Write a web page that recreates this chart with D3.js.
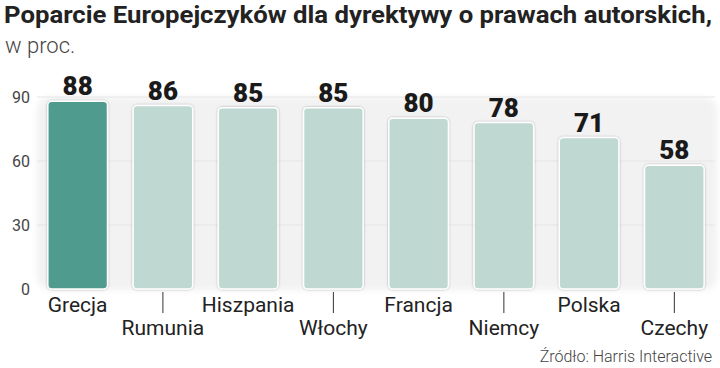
<!DOCTYPE html>
<html lang="pl">
<head>
<meta charset="UTF-8">
<title>Poparcie dla dyrektywy</title>
<script src="https://d3js.org/d3.v7.min.js"></script>
<style>
  body { margin: 0; background: #fff; }
  svg { display: block; }
  .title { font-family: Roboto, sans-serif; font-weight: 700; font-size: 23px; fill: #222; }
  .sub { font-family: Roboto, sans-serif; font-weight: 300; font-size: 22px; fill: #444; }
  .val { font-family: Roboto, sans-serif; font-weight: 900; font-size: 26px; fill: #1a1a1a; }
  .cat { font-family: Roboto, sans-serif; font-size: 21px; fill: #222; }
  .ytick { font-family: Roboto, sans-serif; font-size: 16px; fill: #444; }
  .src { font-family: Roboto, sans-serif; font-weight: 300; font-size: 16px; fill: #444; }
</style>
</head>
<body>
<svg id="canvas"></svg>
<script>
let countries = ['Grecja', 'Rumunia', 'Hiszpania', 'Włochy', 'Francja', 'Niemcy', 'Polska', 'Czechy']
let values = [88, 86, 85, 85, 80, 78, 71, 58]
let yTicks = [0, 30, 60, 90]

let width = 720
let height = 368

let svg = d3.select('#canvas')
  .attr('width', width)
  .attr('height', height)

let defs = svg.append('defs')
let shadow = defs.append('filter').attr('id', 'shadow')
  .attr('x', '-20%').attr('y', '-20%').attr('width', '140%').attr('height', '140%')
shadow.append('feDropShadow')
  .attr('dx', 0).attr('dy', 0).attr('stdDeviation', 1.2)
  .attr('flood-color', '#000').attr('flood-opacity', 0.3)

let bgBlur = defs.append('filter').attr('id', 'soft')
bgBlur.append('feGaussianBlur').attr('stdDeviation', 3)

let xScale = d3.scaleBand()
  .domain(countries)
  .range([41, 711])
  .paddingInner(0.3)
  .paddingOuter(0.08)

let yScale = d3.scaleLinear()
  .domain([0, 90])
  .range([289, 97])

// background panel
svg.append('rect')
  .attr('x', 37).attr('y', 97)
  .attr('width', 680).attr('height', 193)
  .attr('rx', 14)
  .attr('fill', '#f2f2f2')
  .attr('filter', 'url(#soft)')

// gridlines
svg.append('g')
  .selectAll('line')
  .data(yTicks.slice(1))
  .enter()
  .append('line')
  .attr('x1', 37).attr('x2', 715)
  .attr('y1', d => yScale(d)).attr('y2', d => yScale(d))
  .attr('stroke', '#e6e6e6')
  .attr('stroke-width', 1)

// y axis
let yAxis = d3.axisLeft(yScale).tickValues(yTicks).tickSize(0).tickPadding(0)
let yg = svg.append('g')
  .attr('transform', 'translate(30,0)')
  .call(yAxis)
yg.select('.domain').remove()
yg.selectAll('text').attr('class', 'ytick').attr('fill', null).attr('font-size', null).attr('font-family', null)

// bars
svg.selectAll('rect.bar')
  .data(values)
  .enter()
  .append('rect')
  .attr('class', 'bar')
  .attr('x', (d, i) => xScale(countries[i]))
  .attr('y', d => yScale(d))
  .attr('width', xScale.bandwidth())
  .attr('height', d => yScale(0) - yScale(d))
  .attr('rx', 4)
  .attr('fill', (d, i) => i === 0 ? '#4f9b8d' : '#bfd9d2')
  .attr('stroke', '#fff')
  .attr('stroke-width', 1.5)
  .attr('filter', 'url(#shadow)')

// value labels
svg.selectAll('text.val')
  .data(values)
  .enter()
  .append('text')
  .attr('class', 'val')
  .attr('x', (d, i) => xScale(countries[i]) + xScale.bandwidth() / 2)
  .attr('y', d => yScale(d) - 6)
  .attr('text-anchor', 'middle')
  .text(d => d)

// category labels, staggered
let cats = svg.append('g')
cats.selectAll('line')
  .data(countries.filter((c, i) => i % 2 === 1))
  .enter()
  .append('line')
  .attr('x1', d => xScale(d) + xScale.bandwidth() / 2)
  .attr('x2', d => xScale(d) + xScale.bandwidth() / 2)
  .attr('y1', 292).attr('y2', 313)
  .attr('stroke', '#333')
  .attr('stroke-width', 1)

cats.selectAll('text')
  .data(countries)
  .enter()
  .append('text')
  .attr('class', 'cat')
  .attr('x', d => xScale(d) + xScale.bandwidth() / 2)
  .attr('y', (d, i) => i % 2 === 0 ? 312 : 335)
  .attr('text-anchor', 'middle')
  .text(d => d)

// titles
svg.append('text').attr('class', 'title').attr('x', 4).attr('y', 23)
  .attr('textLength', 708).attr('lengthAdjust', 'spacingAndGlyphs')
  .text('Poparcie Europejczyków dla dyrektywy o prawach autorskich,')
svg.append('text').attr('class', 'sub').attr('x', 5).attr('y', 53)
  .text('w proc.')

svg.append('text').attr('class', 'src').attr('x', 712).attr('y', 362)
  .attr('text-anchor', 'end')
  .text('Źródło: Harris Interactive')
</script>
</body>
</html>
